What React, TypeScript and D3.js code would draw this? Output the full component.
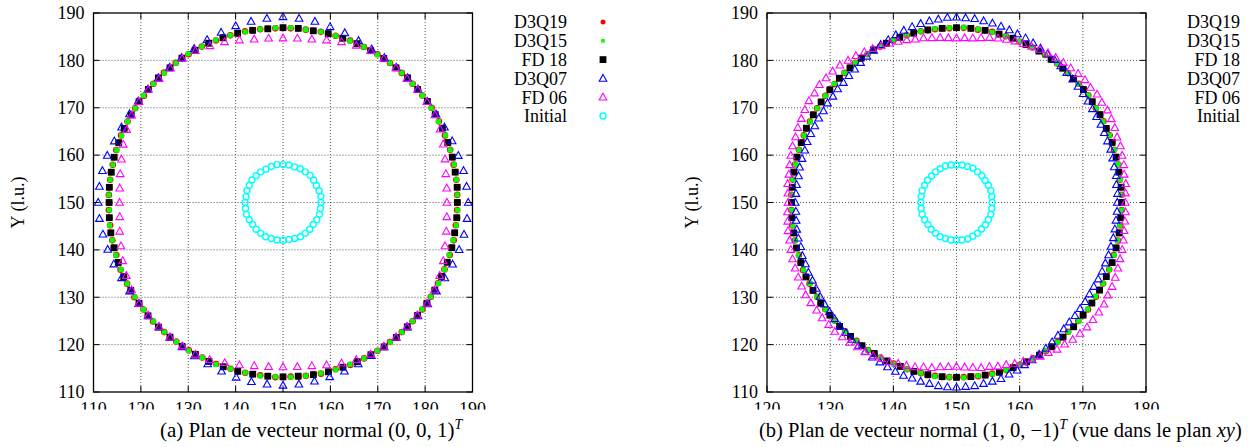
import React from 'react';
import * as d3 from 'd3';

const W = 1252;
const H = 447;
const FONT = '"Liberation Serif", "Times New Roman", serif';

// ---------- data (polar readings: angle in degrees, radius in lattice units) ----------
const CENTER_X = 150;
const CENTER_Y = 150;
// panel (b): plane of normal (1,0,-1) seen in the xy plane -> in-plane axis shrinks by cos 45°
const PROJ_A = 1;
const PROJ_B = Math.SQRT1_2;

const SERIES_NAMES = ['D3Q19', 'D3Q15', 'FD 18', 'D3Q07', 'FD 06', 'Initial'];
const SERIES_COLORS = ['#ff0000', '#00ff00', '#000000', '#0000ff', '#ff00ff', '#00ffff'];
const SERIES_MARKERS = ['dot', 'smallSquare', 'bigSquare', 'triangle', 'triangle', 'ring'];

const X_TICKS_A = [110, 120, 130, 140, 150, 160, 170, 180, 190];
const X_TICKS_B = [120, 130, 140, 150, 160, 170, 180];
const Y_TICKS = [110, 120, 130, 140, 150, 160, 170, 180, 190];

const ANG_DENSE = [
  0, 2.5, 5, 7.5, 10, 12.5, 15, 17.5, 20, 22.5, 25, 27.5, 30, 32.5, 35, 37.5, 40, 42.5, 45, 47.5, 50, 52.5, 55, 57.5, 60, 62.5, 65, 67.5, 70, 72.5, 75, 77.5, 80, 82.5, 85, 87.5,
  90, 92.5, 95, 97.5, 100, 102.5, 105, 107.5, 110, 112.5, 115, 117.5, 120, 122.5, 125, 127.5, 130, 132.5, 135, 137.5, 140, 142.5, 145, 147.5, 150, 152.5, 155, 157.5, 160, 162.5, 165, 167.5, 170, 172.5, 175, 177.5,
  180, 182.5, 185, 187.5, 190, 192.5, 195, 197.5, 200, 202.5, 205, 207.5, 210, 212.5, 215, 217.5, 220, 222.5, 225, 227.5, 230, 232.5, 235, 237.5, 240, 242.5, 245, 247.5, 250, 252.5, 255, 257.5, 260, 262.5, 265, 267.5,
  270, 272.5, 275, 277.5, 280, 282.5, 285, 287.5, 290, 292.5, 295, 297.5, 300, 302.5, 305, 307.5, 310, 312.5, 315, 317.5, 320, 322.5, 325, 327.5, 330, 332.5, 335, 337.5, 340, 342.5, 345, 347.5, 350, 352.5, 355, 357.5,
];
const ANG_FINE = [
  0, 3, 6, 9, 12, 15, 18, 21, 24, 27, 30, 33, 36, 39, 42, 45, 48, 51, 54, 57, 60, 63, 66, 69, 72, 75, 78, 81, 84, 87,
  90, 93, 96, 99, 102, 105, 108, 111, 114, 117, 120, 123, 126, 129, 132, 135, 138, 141, 144, 147, 150, 153, 156, 159, 162, 165, 168, 171, 174, 177,
  180, 183, 186, 189, 192, 195, 198, 201, 204, 207, 210, 213, 216, 219, 222, 225, 228, 231, 234, 237, 240, 243, 246, 249, 252, 255, 258, 261, 264, 267,
  270, 273, 276, 279, 282, 285, 288, 291, 294, 297, 300, 303, 306, 309, 312, 315, 318, 321, 324, 327, 330, 333, 336, 339, 342, 345, 348, 351, 354, 357,
];
const ANG_MID = [
  0, 5, 10, 15, 20, 25, 30, 35, 40, 45, 50, 55, 60, 65, 70, 75, 80, 85,
  90, 95, 100, 105, 110, 115, 120, 125, 130, 135, 140, 145, 150, 155, 160, 165, 170, 175,
  180, 185, 190, 195, 200, 205, 210, 215, 220, 225, 230, 235, 240, 245, 250, 255, 260, 265,
  270, 275, 280, 285, 290, 295, 300, 305, 310, 315, 320, 325, 330, 335, 340, 345, 350, 355,
];
const ANG_INIT = [
  0, 9, 18, 27, 36, 45, 54, 63, 72, 81, 90, 99, 108, 117, 126, 135, 144, 153, 162, 171,
  180, 189, 198, 207, 216, 225, 234, 243, 252, 261, 270, 279, 288, 297, 306, 315, 324, 333, 342, 351,
];

// ----- panel (a) -----
const A_D3Q19 = [
  36.8, 36.8, 36.9, 36.9, 37.0, 36.9, 37.0, 37.0, 37.1, 37.0, 37.1, 37.1, 37.1, 37.2, 37.1, 37.1, 37.2, 37.1, 37.1, 37.1, 37.2, 37.1, 37.0, 37.1, 37.0, 37.0, 36.9, 37.0, 36.9, 36.9, 36.8, 36.9, 36.8, 36.8, 36.9, 36.8,
  36.9, 36.8, 36.8, 36.9, 36.9, 37.0, 36.9, 37.0, 37.1, 37.0, 37.1, 37.1, 37.2, 37.1, 37.1, 37.2, 37.1, 37.2, 37.1, 37.1, 37.1, 37.0, 37.1, 37.0, 37.0, 37.0, 36.9, 37.0, 36.9, 36.9, 36.9, 36.8, 36.9, 36.8, 36.8, 36.8,
  36.7, 36.8, 36.8, 36.8, 36.9, 36.9, 37.0, 36.9, 37.0, 37.1, 37.0, 37.1, 37.1, 37.2, 37.1, 37.1, 37.2, 37.2, 37.1, 37.1, 37.1, 37.0, 37.1, 37.0, 37.0, 36.9, 37.0, 36.9, 36.9, 36.8, 36.9, 36.8, 36.8, 36.8, 36.8, 36.9,
  36.9, 36.8, 36.9, 36.9, 36.9, 37.0, 37.0, 36.9, 37.0, 37.1, 37.0, 37.1, 37.1, 37.1, 37.2, 37.1, 37.2, 37.1, 37.1, 37.1, 37.0, 37.1, 37.0, 37.0, 37.0, 36.9, 37.0, 36.9, 36.9, 36.9, 36.8, 36.9, 36.8, 36.8, 36.9, 36.8,
];
const A_D3Q15 = [
  36.9, 36.8, 36.9, 36.9, 36.9, 37.0, 37.0, 37.0, 37.0, 37.1, 37.1, 37.0, 37.1, 37.1, 37.2, 37.1, 37.1, 37.1, 37.2, 37.1, 37.1, 37.1, 37.0, 37.0, 37.0, 37.0, 36.9, 36.9, 37.0, 36.9, 36.8, 36.9, 36.9, 36.8, 36.8, 36.9,
  36.8, 36.9, 36.9, 36.9, 37.0, 36.9, 37.0, 37.0, 37.1, 37.1, 37.0, 37.1, 37.1, 37.2, 37.2, 37.1, 37.1, 37.1, 37.2, 37.1, 37.0, 37.1, 37.0, 37.0, 36.9, 37.0, 36.9, 36.9, 36.9, 36.8, 36.9, 36.8, 36.8, 36.8, 36.9, 36.8,
  36.8, 36.7, 36.8, 36.9, 36.8, 36.9, 36.9, 37.0, 37.0, 37.0, 37.1, 37.1, 37.1, 37.1, 37.2, 37.1, 37.2, 37.1, 37.1, 37.1, 37.1, 37.0, 37.0, 37.1, 37.0, 36.9, 36.9, 37.0, 36.9, 36.8, 36.9, 36.8, 36.8, 36.9, 36.8, 36.8,
  36.8, 36.9, 36.9, 36.9, 37.0, 36.9, 37.0, 37.0, 37.1, 37.0, 37.1, 37.1, 37.2, 37.1, 37.1, 37.2, 37.1, 37.1, 37.1, 37.1, 37.0, 37.0, 37.1, 37.0, 36.9, 37.0, 36.9, 36.9, 36.9, 36.8, 36.9, 36.8, 36.8, 36.9, 36.8, 36.9,
];
const A_FD18 = [
  36.8, 36.9, 36.9, 37.0, 37.0, 37.1, 37.1, 37.2, 37.1, 37.2, 37.1, 37.1, 37.0, 37.0, 36.9, 36.9, 36.8, 36.9,
  36.9, 36.8, 36.9, 37.0, 37.0, 37.1, 37.1, 37.2, 37.1, 37.2, 37.1, 37.1, 37.0, 37.0, 36.9, 36.9, 36.8, 36.8,
  36.7, 36.8, 36.9, 36.9, 37.0, 37.1, 37.1, 37.1, 37.2, 37.2, 37.1, 37.1, 37.0, 37.0, 36.9, 36.9, 36.8, 36.8,
  36.8, 36.8, 36.9, 37.0, 37.0, 37.1, 37.1, 37.2, 37.2, 37.1, 37.1, 37.1, 37.0, 36.9, 36.9, 36.9, 36.8, 36.8,
];
const A_D3Q07 = [
  39.1, 38.9, 38.7, 38.3, 38.0, 37.6, 37.3, 37.2, 37.2, 37.2, 37.2, 37.3, 37.4, 37.7, 38.1, 38.4, 38.8, 39.0,
  39.2, 39.0, 38.8, 38.6, 38.2, 37.9, 37.5, 37.3, 37.2, 37.2, 37.2, 37.3, 37.4, 37.6, 37.9, 38.4, 38.7, 38.9,
  39.0, 38.9, 38.6, 38.3, 38.0, 37.6, 37.4, 37.2, 37.2, 37.1, 37.2, 37.2, 37.4, 37.6, 37.9, 38.2, 38.4, 38.5,
  38.6, 38.5, 38.3, 38.1, 37.9, 37.6, 37.3, 37.2, 37.2, 37.2, 37.2, 37.3, 37.4, 37.7, 38.1, 38.5, 38.8, 39.0,
];
const A_FD06 = [
  34.6, 34.7, 34.9, 35.4, 36.0, 36.6, 37.0, 37.1, 37.1, 37.0, 37.1, 37.1, 37.0, 36.6, 36.1, 35.5, 35.0, 34.8,
  34.7, 34.8, 35.0, 35.5, 36.1, 36.5, 37.0, 37.1, 37.0, 37.0, 37.1, 37.1, 36.9, 36.4, 35.9, 35.3, 34.9, 34.6,
  34.5, 34.6, 35.0, 35.4, 36.0, 36.5, 36.9, 37.1, 37.1, 37.0, 37.1, 37.0, 37.0, 36.6, 36.0, 35.5, 35.0, 34.8,
  34.7, 34.8, 35.0, 35.5, 36.1, 36.6, 37.0, 37.1, 37.1, 37.0, 37.0, 37.1, 36.9, 36.5, 36.0, 35.4, 35.0, 34.7,
];
const A_INIT = [
  8.0, 8.1, 8.0, 7.9, 8.0, 8.1, 8.0, 8.0, 7.9, 8.0, 8.0, 8.1, 8.0, 7.9, 8.0, 8.0, 8.1, 8.0, 8.0, 7.9,
  8.0, 8.0, 8.1, 8.0, 7.9, 8.0, 8.0, 8.1, 8.0, 8.0, 8.0, 7.9, 8.0, 8.1, 8.0, 8.0, 7.9, 8.0, 8.1, 8.0,
];

// ----- panel (b) -----
const B_D3Q19 = [
  36.9, 37.0, 37.0, 36.9, 37.0, 37.1, 37.0, 37.0, 37.1, 37.1, 37.0, 37.1, 37.1, 37.0, 37.1, 37.2, 37.1, 37.1, 37.1, 37.0, 37.1, 37.0, 37.0, 36.9, 37.0, 36.9, 36.9, 36.8, 36.9, 36.8, 36.8, 36.9, 36.9, 36.8, 36.9, 36.9,
  36.9, 36.8, 36.9, 36.9, 36.9, 37.0, 37.0, 37.0, 37.1, 37.0, 37.1, 37.1, 37.2, 37.1, 37.1, 37.2, 37.1, 37.1, 37.1, 37.0, 37.1, 37.0, 37.0, 37.0, 37.1, 37.0, 37.0, 37.0, 36.9, 37.0, 37.0, 37.0, 36.9, 37.0, 37.0, 37.0,
  37.0, 37.0, 37.0, 37.1, 37.0, 37.1, 37.1, 37.0, 37.1, 37.2, 37.1, 37.1, 37.1, 37.0, 37.1, 37.0, 37.0, 36.9, 37.0, 36.9, 36.9, 36.8, 36.9, 36.9, 36.8, 36.9, 36.9, 36.8, 36.9, 36.9, 36.9, 36.9, 37.0, 36.9, 37.0, 36.9,
  36.9, 36.9, 36.9, 37.0, 37.0, 37.0, 37.1, 37.1, 37.0, 37.1, 37.2, 37.1, 37.1, 37.2, 37.1, 37.1, 37.1, 37.0, 37.1, 37.0, 37.0, 37.1, 37.0, 37.0, 36.9, 37.0, 37.0, 37.0, 37.0, 36.9, 37.0, 37.0, 36.9, 37.0, 37.0, 37.0,
];
const B_D3Q15 = [
  37.0, 36.9, 37.0, 37.0, 37.0, 37.1, 37.0, 37.1, 37.0, 37.1, 37.1, 37.0, 37.1, 37.1, 37.1, 37.2, 37.1, 37.0, 37.0, 37.0, 36.9, 37.0, 36.9, 36.9, 36.8, 36.9, 36.9, 36.8, 36.9, 36.8, 36.9, 36.8, 36.9, 36.9, 36.9, 37.0,
  36.8, 36.9, 36.9, 37.0, 36.9, 37.0, 37.1, 37.0, 37.1, 37.1, 37.2, 37.1, 37.1, 37.1, 37.1, 37.2, 37.0, 37.1, 37.0, 37.1, 37.0, 37.0, 37.0, 37.0, 37.1, 36.9, 37.0, 37.0, 36.9, 37.0, 37.0, 36.9, 37.0, 37.0, 36.9, 37.0,
  36.9, 37.0, 37.1, 37.0, 37.1, 37.0, 37.1, 37.1, 37.1, 37.1, 37.2, 37.0, 37.1, 37.1, 37.0, 37.0, 37.0, 37.0, 36.9, 37.0, 36.9, 36.9, 36.8, 36.9, 36.9, 36.9, 36.8, 36.9, 36.8, 36.9, 36.9, 36.9, 36.9, 37.0, 36.9, 36.9,
  36.9, 37.0, 36.9, 36.9, 37.0, 37.1, 37.0, 37.1, 37.1, 37.1, 37.1, 37.2, 37.1, 37.1, 37.1, 37.2, 37.0, 37.1, 37.0, 37.1, 37.0, 37.0, 37.0, 36.9, 37.0, 37.0, 36.9, 37.0, 37.0, 37.0, 36.9, 37.0, 37.0, 36.9, 37.0, 37.0,
];
const B_FD18 = [
  37.0, 37.0, 36.9, 37.0, 37.1, 37.0, 37.1, 37.1, 37.1, 37.0, 37.0, 36.9, 36.9, 36.8, 36.9, 36.8, 36.9, 36.9,
  36.9, 36.9, 37.0, 37.0, 37.1, 37.1, 37.2, 37.2, 37.1, 37.1, 37.0, 37.0, 37.0, 37.1, 37.0, 37.0, 37.0, 36.9,
  36.9, 37.0, 37.0, 37.1, 37.1, 37.2, 37.1, 37.1, 37.0, 37.0, 36.9, 36.9, 36.8, 36.9, 36.8, 36.9, 36.9, 36.9,
  36.9, 36.9, 37.0, 37.1, 37.1, 37.1, 37.2, 37.2, 37.1, 37.1, 37.0, 37.0, 37.0, 37.0, 37.1, 37.0, 37.0, 36.9,
];
const B_D3Q07 = [
  36.0, 36.1, 36.0, 36.2, 36.1, 36.2, 36.3, 36.2, 36.2, 36.3, 36.2, 36.3, 36.4, 36.5, 36.6, 36.8, 36.9, 37.1, 37.3, 37.4, 37.6, 37.8, 38.0, 38.1, 38.3, 38.5, 38.7, 38.8, 39.0, 39.0,
  39.1, 39.1, 38.9, 38.8, 38.6, 38.4, 38.2, 37.9, 37.6, 37.4, 37.1, 36.8, 36.5, 36.2, 36.0, 35.8, 35.8, 35.6, 35.7, 35.5, 35.6, 35.6, 35.7, 35.8, 35.7, 35.8, 35.9, 35.8, 36.0, 36.0,
  36.1, 36.0, 36.1, 36.2, 36.2, 36.1, 36.3, 36.2, 36.3, 36.2, 36.3, 36.4, 36.5, 36.6, 36.7, 36.9, 37.0, 37.2, 37.3, 37.5, 37.7, 37.8, 38.0, 38.2, 38.4, 38.4, 38.6, 38.7, 38.9, 39.0,
  39.0, 38.9, 38.9, 38.7, 38.6, 38.5, 38.1, 37.9, 37.5, 37.3, 37.0, 36.7, 36.4, 36.1, 35.9, 35.7, 35.7, 35.6, 35.6, 35.5, 35.5, 35.6, 35.7, 35.7, 35.8, 35.8, 35.9, 35.9, 35.9, 36.0,
];
const B_FD06 = [
  37.8, 37.9, 38.1, 38.0, 38.3, 38.4, 38.6, 38.5, 38.8, 38.9, 39.0, 38.8, 38.9, 38.6, 38.7, 38.5, 38.2, 38.0, 37.8, 37.6, 37.3, 37.0, 36.7, 36.5, 36.2, 35.9, 35.6, 35.2, 34.9, 34.8,
  34.7, 34.8, 35.0, 35.2, 35.5, 35.7, 36.1, 36.4, 36.8, 37.1, 37.5, 37.9, 38.3, 38.6, 39.0, 39.2, 39.3, 39.5, 39.3, 39.4, 39.2, 39.0, 38.9, 38.6, 38.6, 38.4, 38.2, 38.0, 38.0, 37.8,
  37.7, 37.9, 38.0, 38.2, 38.2, 38.4, 38.6, 38.7, 38.8, 38.9, 39.0, 38.9, 38.7, 38.7, 38.5, 38.5, 38.2, 38.0, 37.7, 37.6, 37.3, 37.0, 36.8, 36.4, 36.2, 35.9, 35.5, 35.3, 34.9, 34.7,
  34.6, 34.8, 35.0, 35.3, 35.4, 35.8, 36.0, 36.4, 36.7, 37.1, 37.5, 37.8, 38.3, 38.5, 38.9, 39.1, 39.3, 39.3, 39.4, 39.4, 39.1, 39.1, 38.9, 38.7, 38.5, 38.4, 38.2, 38.0, 37.9, 37.9,
];
const B_INIT = [
  8.0, 8.0, 8.1, 8.0, 7.9, 8.0, 8.0, 8.1, 8.0, 8.0, 7.9, 8.0, 8.1, 8.0, 8.0, 7.9, 8.0, 8.0, 8.1, 8.0,
  8.0, 8.0, 8.1, 8.0, 7.9, 8.0, 8.0, 8.1, 8.0, 8.0, 7.9, 8.0, 8.1, 8.0, 8.0, 7.9, 8.0, 8.0, 8.1, 8.0,
];

const ANGLES_A = [ANG_DENSE, ANG_DENSE, ANG_MID, ANG_MID, ANG_MID, ANG_INIT];
const ANGLES_B = [ANG_DENSE, ANG_DENSE, ANG_MID, ANG_FINE, ANG_FINE, ANG_INIT];
const RADII_A = [A_D3Q19, A_D3Q15, A_FD18, A_D3Q07, A_FD06, A_INIT];
const RADII_B = [B_D3Q19, B_D3Q15, B_FD18, B_D3Q07, B_FD06, B_INIT];

// ---------- drawing ----------
function Marker({ kind, color, x, y }: { kind: string; color: string; x: number; y: number }) {
  if (kind === 'dot') return <circle cx={x} cy={y} r={3.3} fill={color} />;
  if (kind === 'smallSquare') return <rect x={x - 2.5} y={y - 2.5} width={5} height={5} fill={color} />;
  if (kind === 'bigSquare') return <rect x={x - 3.4} y={y - 3.4} width={6.8} height={6.8} fill={color} />;
  if (kind === 'triangle')
    return (
      <path
        d={`M${x},${y - 4} L${x + 3.8},${y + 2.8} L${x - 3.8},${y + 2.8} Z`}
        fill="none"
        stroke={color}
        strokeWidth={1.1}
      />
    );
  return <circle cx={x} cy={y} r={3} fill="none" stroke={color} strokeWidth={1.4} />;
}

function LegendMarker({ kind, color, x, y }: { kind: string; color: string; x: number; y: number }) {
  if (kind === 'dot') return <circle cx={x} cy={y} r={2.5} fill={color} />;
  if (kind === 'smallSquare') return <rect x={x - 1.8} y={y - 1.8} width={3.6} height={3.6} fill={color} />;
  return <Marker kind={kind} color={color} x={x} y={y} />;
}

type PanelProps = {
  left: number;
  xDomain: [number, number];
  xTicks: number[];
  angles: number[][];
  radii: number[][];
  proj: number;
  legendTextX: number;
  yLabelX: number;
};

function Panel({ left, xDomain, xTicks, angles, radii, proj, legendTextX, yLabelX }: PanelProps) {
  const top = 13;
  const size = 379;
  const x = d3.scaleLinear().domain(xDomain).range([left, left + size]);
  const y = d3.scaleLinear().domain([110, 190]).range([top + size, top]);
  const tickLen = 6;
  const gridStyle = { stroke: '#444', strokeWidth: 0.9, strokeDasharray: '1,2' };

  return (
    <g>
      {xTicks.slice(1, -1).map((t) => (
        <line key={'gx' + t} x1={x(t)} x2={x(t)} y1={top} y2={top + size} style={gridStyle} />
      ))}
      {Y_TICKS.slice(1, -1).map((t) => (
        <line key={'gy' + t} x1={left} x2={left + size} y1={y(t)} y2={y(t)} style={gridStyle} />
      ))}
      {xTicks.map((t) => (
        <g key={'tx' + t}>
          <line x1={x(t)} x2={x(t)} y1={top + size} y2={top + size - tickLen} stroke="#000" />
          <line x1={x(t)} x2={x(t)} y1={top} y2={top + tickLen} stroke="#000" />
          <text x={x(t)} y={415} textAnchor="middle" fontFamily={FONT} fontSize={18} fill="#000">
            {t}
          </text>
        </g>
      ))}
      {Y_TICKS.map((t) => (
        <g key={'ty' + t}>
          <line x1={left} x2={left + tickLen} y1={y(t)} y2={y(t)} stroke="#000" />
          <line x1={left + size} x2={left + size - tickLen} y1={y(t)} y2={y(t)} stroke="#000" />
          <text x={left - 9} y={y(t)} dy="0.35em" textAnchor="end" fontFamily={FONT} fontSize={18} fill="#000">
            {t}
          </text>
        </g>
      ))}
      {SERIES_NAMES.map((name, si) => {
        const angs = angles[si];
        const rs = radii[si];
        return (
          <g key={name}>
            {angs.map((a, i) => {
              const r = rs[i];
              if (r === undefined) return null;
              const th = (a * Math.PI) / 180;
              const dx = CENTER_X + r * Math.cos(th) * proj;
              const dy = CENTER_Y + r * Math.sin(th);
              return <Marker key={i} kind={SERIES_MARKERS[si]} color={SERIES_COLORS[si]} x={x(dx)} y={y(dy)} />;
            })}
          </g>
        );
      })}
      <rect x={left} y={top} width={size} height={size} fill="none" stroke="#000" strokeWidth={1.3} />
      <text
        transform={`translate(${yLabelX},${top + size / 2}) rotate(-90)`}
        textAnchor="middle"
        dy="0.35em"
        fontFamily={FONT}
        fontSize={18}
        fill="#000"
      >
        Y (l.u.)
      </text>
      {SERIES_NAMES.map((name, i) => {
        const ly = 22 + i * 18.8;
        return (
          <g key={'lg' + name}>
            <text x={legendTextX} y={ly} dy="0.35em" textAnchor="end" fontFamily={FONT} fontSize={18} fill="#000">
              {name}
            </text>
            <LegendMarker kind={SERIES_MARKERS[i]} color={SERIES_COLORS[i]} x={legendTextX + 36} y={ly} />
          </g>
        );
      })}
    </g>
  );
}

export default function App() {
  return (
    <div style={{ position: 'absolute', left: 0, top: 0 }}>
      <svg width={W} height={H} style={{ display: 'block', background: '#fff' }}>
        <rect x={0} y={0} width={W} height={H} fill="#fff" />
        <Panel
          left={93.5}
          xDomain={[110, 190]}
          xTicks={X_TICKS_A}
          angles={ANGLES_A}
          radii={RADII_A}
          proj={PROJ_A}
          legendTextX={567}
          yLabelX={18}
        />
        <Panel
          left={767}
          xDomain={[120, 180]}
          xTicks={X_TICKS_B}
          angles={ANGLES_B}
          radii={RADII_B}
          proj={PROJ_B}
          legendTextX={1240}
          yLabelX={692}
        />
        <rect x={0} y={409.5} width={W} height={H - 409.5} fill="#fff" />
        <text x={160} y={437} fontFamily={FONT} fontSize={21} fill="#000">
          (a) Plan de vecteur normal (0, 0, 1)
          <tspan dy={-8} fontSize={14} fontStyle="italic">T</tspan>
        </text>
        <text x={759} y={437} fontFamily={FONT} fontSize={20.5} fill="#000">
          (b) Plan de vecteur normal (1, 0, −1)
          <tspan dy={-8} fontSize={14} fontStyle="italic">T</tspan>
          <tspan dy={8}> (vue dans le plan </tspan>
          <tspan fontStyle="italic">xy</tspan>
          <tspan>)</tspan>
        </text>
      </svg>
    </div>
  );
}
